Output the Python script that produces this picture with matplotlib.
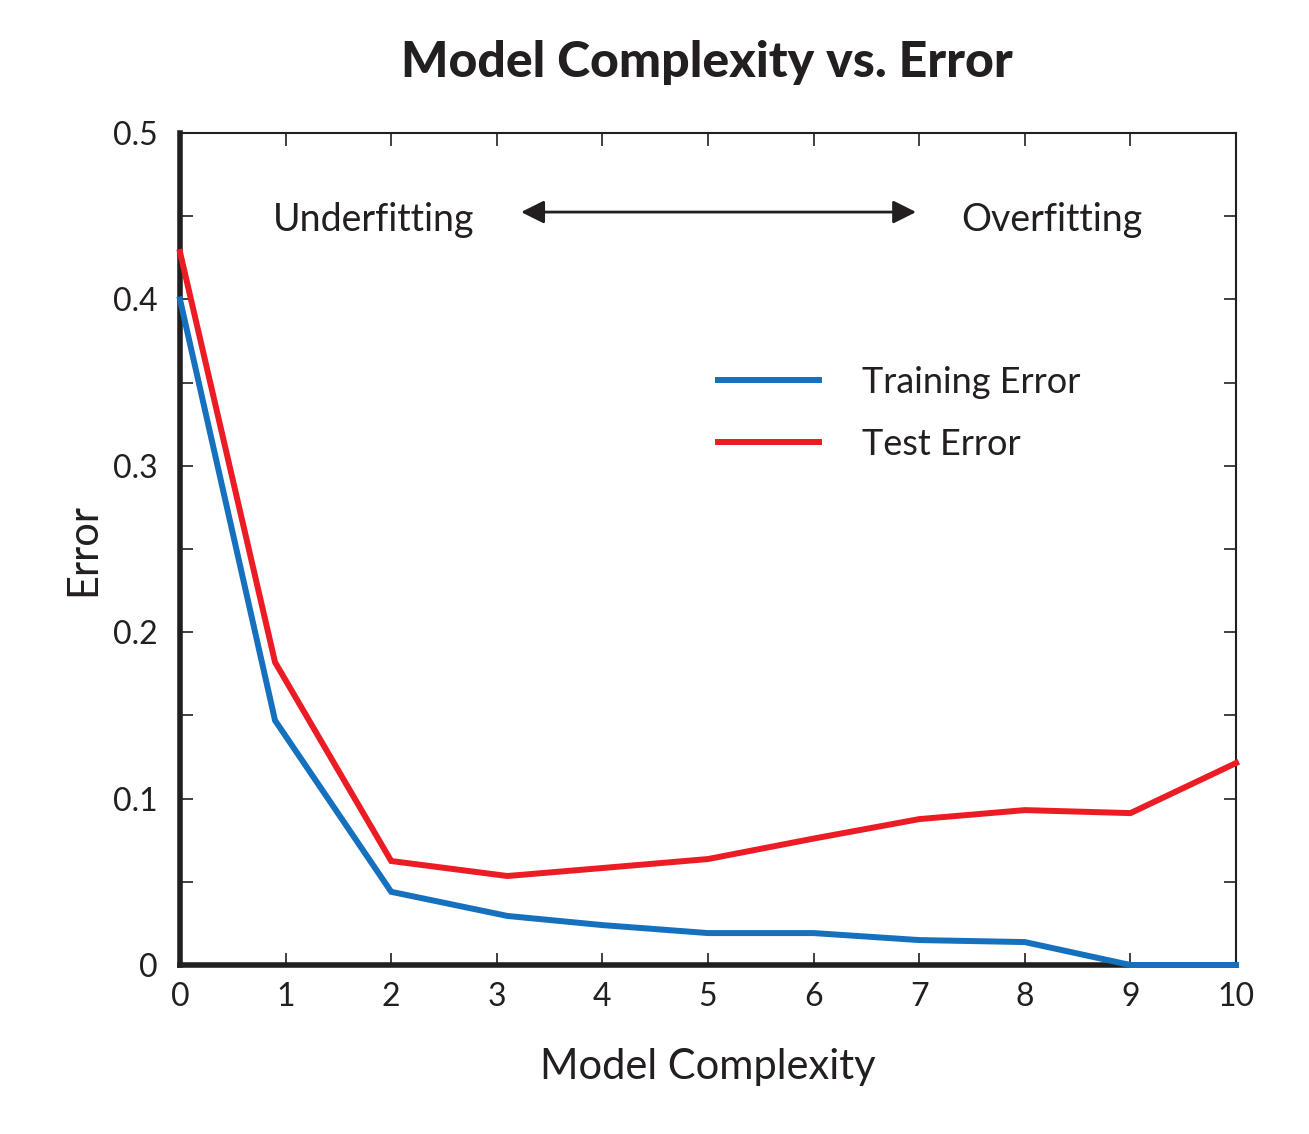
import numpy as np
import matplotlib.pyplot as plt
from matplotlib.ticker import MultipleLocator

plt.rcParams['font.family'] = ['Lato', 'DejaVu Sans']

# Dane
complexity = [0, 0.9, 2, 3.1, 4, 5, 6, 7, 8, 9, 10]
train_err = [0.400, 0.147, 0.044, 0.0295, 0.024, 0.0192, 0.0192, 0.015, 0.0138, 0.0, 0.0]
test_err = [0.4285, 0.182, 0.0625, 0.0535, 0.0583, 0.0637, 0.076, 0.0877, 0.0931, 0.0913, 0.1214]

x_ticks = list(range(0, 11))
y_ticks = [0, 0.1, 0.2, 0.3, 0.4, 0.5]
y_tick_labels = ['0', '0.1', '0.2', '0.3', '0.4', '0.5']

blue = '#1570BE'
red = '#EC1C24'
ink = '#231F20'

fig = plt.figure(figsize=(13.09, 11.34), dpi=100)
ax = fig.add_axes([0.1375, 0.149, 0.8068, 0.7337])

ax.plot(complexity, train_err, color=blue, lw=4.3, label='Training Error',
        solid_joinstyle='miter', clip_on=False, zorder=3)
ax.plot(complexity, test_err, color=red, lw=4.3, label='Test Error',
        solid_joinstyle='miter', clip_on=False, zorder=3)

ax.set_xlim(0, 10)
ax.set_ylim(0, 0.5)
ax.set_xticks(x_ticks)
ax.set_xticklabels([str(v) for v in x_ticks])
ax.set_yticks(y_ticks)
ax.set_yticklabels(y_tick_labels)
ax.yaxis.set_minor_locator(MultipleLocator(0.05))

ax.tick_params(axis='both', which='both', direction='in', colors=ink,
               labelsize=23, top=True, right=True, width=1.2)
ax.tick_params(axis='y', which='major', length=9, pad=16)
ax.tick_params(axis='y', which='minor', length=9)
ax.tick_params(axis='x', which='major', length=9, pad=12)

for side in ['left', 'bottom']:
    ax.spines[side].set_linewidth(4)
    ax.spines[side].set_color(ink)
for side in ['top', 'right']:
    ax.spines[side].set_linewidth(1.5)
    ax.spines[side].set_color(ink)

ax.set_xlabel('Model Complexity', fontsize=30, color=ink, labelpad=26)
ax.set_ylabel('Error', fontsize=30, color=ink, labelpad=8)
fig.text(0.54, 0.945, 'Model Complexity vs. Error', ha='center', va='center',
         fontsize=36, fontweight='black', color=ink)

ax.text(1.83, 0.448, 'Underfitting', ha='center', va='center',
        fontsize=27, color=ink)
ax.text(8.26, 0.448, 'Overfitting', ha='center', va='center',
        fontsize=27, color=ink)
ax.annotate('', xy=(3.23, 0.4525), xytext=(6.97, 0.4525),
            arrowprops=dict(arrowstyle='<|-|>', color=ink, lw=2,
                            mutation_scale=35, shrinkA=0, shrinkB=0))

ax.legend(loc='center left', bbox_to_anchor=(0.5485, 0.6354),
          bbox_transform=fig.transFigure, frameon=False, fontsize=26,
          handlelength=2.8, handletextpad=1.2, labelspacing=0.8,
          borderpad=0, borderaxespad=0, labelcolor=ink)

fig.savefig('out.png', dpi=100, facecolor='white')
